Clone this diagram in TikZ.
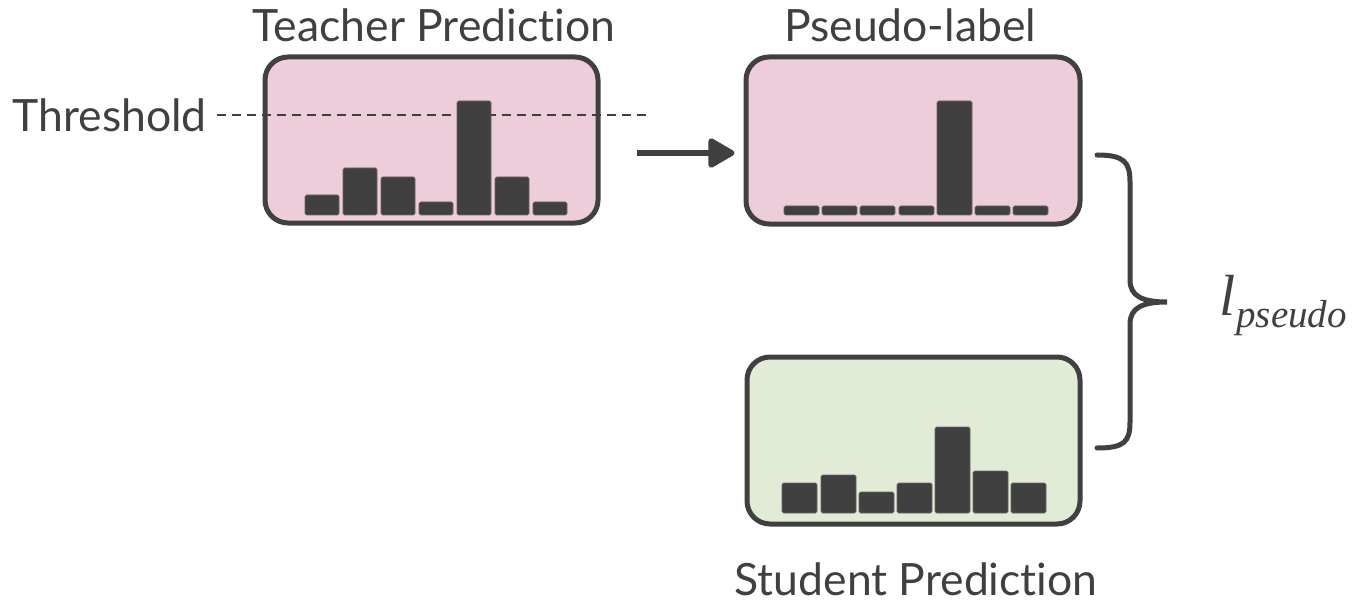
\documentclass[tikz,border=0pt]{standalone}
\usepackage{fontspec}
\setmainfont{Lato}[Ligatures={NoCommon}]
\newfontfamily\lossfont{Liberation Serif}
\usetikzlibrary{arrows.meta}

\definecolor{ink}{HTML}{404040}
\definecolor{pinkfill}{HTML}{EDCDDA}
\definecolor{greenfill}{HTML}{E1EBD5}

\tikzset{
  panel/.style={draw=ink, line width=5pt, rounded corners=23pt,
    minimum width=333pt, minimum height=166pt, inner sep=0pt},
  caption/.style={text=ink, font=\fontsize{44.5}{52}\selectfont, inner sep=0pt, anchor=base},
  bar/.style={fill=ink, draw=ink!80, line width=0.6pt, rounded corners=1.5pt},
  flow/.style={draw=ink, line width=5.5pt, -{Triangle[length=29pt,width=32pt,round]}},
  thresh/.style={draw=ink, line width=1.8pt, dash pattern=on 9pt off 6pt},
  bracepath/.style={draw=ink, line width=5pt, line cap=round},
}

\begin{document}
\begin{tikzpicture}[x=1pt, y=-1pt]
  \useasboundingbox (0,0) rectangle (1354,604);

  % prediction panels
  \node[panel, fill=pinkfill] (teacher) at (431.5,140) {};
  \node[panel, fill=pinkfill, minimum width=334pt, minimum height=167pt] (pseudo) at (913,140.5) {};
  \node[panel, fill=greenfill, minimum height=167pt] (student) at (913.5,440.5) {};

  % captions
  \node[caption] (tcap) at (434,42) {Teacher Prediction};
  \node[caption] (pcap) at (910,42) {Pseudo-label};
  \node[caption] (scap) at (916,595) {Student Prediction};
  \node[caption, anchor=base east] (thr) at (207,132) {Threshold};

  % threshold line, passes behind the bars
  \coordinate (thrend) at (650,115);
  \draw[thresh] (thr.east |- thrend) ++(10,0) -- (thrend);

  % teacher histogram
  \foreach \x/\t in {305/195, 343/168, 381/177, 419/202, 457/101, 495/177, 533/202}
    \draw[bar] (\x,215) rectangle (\x+34,\t);

  % pseudo-label histogram (one-hot)
  \foreach \x/\t in {784/206, 822/206, 860/206, 899/206, 937/101, 975/206, 1013/206}
    \draw[bar] (\x,215) rectangle (\x+35,\t);

  % student histogram
  \foreach \x/\t in {782/483, 821/475, 859/492, 897/483, 935/427, 973/471, 1011/483}
    \draw[bar] (\x,513) rectangle (\x+35,\t);

  % teacher -> pseudo-label
  \coordinate (astart) at (637,153);
  \draw[flow, shorten >=9pt] (astart) -- (pseudo.west |- astart);

  % brace joining pseudo-label and student prediction
  \coordinate (btop) at (1097,155);
  \coordinate (bbot) at (1097,448);
  \coordinate (btip) at (1167,302);
  \draw[bracepath] (btop) .. controls (1124,155) and (1130,162) .. (1130,182)
    -- (1130,280) .. controls (1130,296) and (1142,302) .. (btip)
    .. controls (1142,302) and (1130,308) .. (1130,324)
    -- (1130,422) .. controls (1130,442) and (1124,448) .. (bbot);

  % loss label
  \node[text=ink, anchor=base west, inner sep=0pt] (loss) at (1219,315)
    {\lossfont\itshape\fontsize{58}{64}\selectfont l\kern1pt\raisebox{-12pt}{\fontsize{39}{44}\selectfont pseudo}};
\end{tikzpicture}
\end{document}
